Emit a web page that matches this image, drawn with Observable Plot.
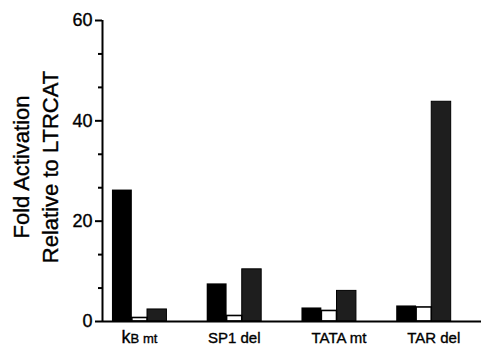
<!DOCTYPE html>
<html>
<head>
<meta charset="utf-8">
<script src="https://cdn.jsdelivr.net/npm/d3@7"></script>
<script src="https://cdn.jsdelivr.net/npm/@observablehq/plot@0.6"></script>
<style>
  html, body { margin: 0; padding: 0; background: #fff; }
  svg { font-family: "Liberation Sans", Arial, Helvetica, sans-serif; }
</style>
</head>
<body>
<div id="chart"></div>
<script>
// Data
const groups = ["kB mt", "SP1 del", "TATA mt", "TAR del"];
const blackValues = [26.2, 7.5, 2.7, 3.1];
const whiteValues = [0.7, 1.1, 2.1, 2.8];
const grayValues  = [2.4, 10.4, 6.1, 43.8];
const majorTicks = [0, 20, 40, 60];
const minorTicks = [20/3, 40/3, 80/3, 100/3, 140/3, 160/3];
const yTitle = "Fold Activation\nRelative to LTRCAT";

// scale configuration
const xDomain = [-0.39, 3.61];
const slots = {black: [-0.285, -0.075], white: [-0.075, 0.085], gray: [0.085, 0.29]};

const rows = groups.map((g, i) => ({i, g, black: blackValues[i], white: whiteValues[i], gray: grayValues[i]}));

const font = "Liberation Sans, Arial, Helvetica, sans-serif";

const plot = Plot.plot({
  width: 481,
  height: 348,
  marginLeft: 102,
  marginRight: 0,
  marginTop: 20,
  marginBottom: 27,
  style: {fontFamily: font, background: "#fff", color: "#000"},
  x: {domain: xDomain, axis: null},
  y: {domain: [0, 60], axis: null},
  marks: [
    Plot.rectY(rows, {x1: d => d.i + slots.black[0], x2: d => d.i + slots.black[1], y: "black", fill: "#000"}),
    Plot.rectY(rows, {x1: d => d.i + slots.gray[0], x2: d => d.i + slots.gray[1], y: "gray", fill: "#1e1e1e", stroke: "#000", strokeWidth: 1}),
    Plot.rectY(rows, {x1: d => d.i + slots.white[0], x2: d => d.i + slots.white[1], y: "white", fill: "#fff", stroke: "#000", strokeWidth: 1.6}),
    Plot.ruleY([0], {stroke: "#000", strokeWidth: 2}),
    Plot.ruleX([xDomain[0]], {y1: 0, y2: 60, stroke: "#000", strokeWidth: 2}),
    Plot.axisY({ticks: majorTicks, tickSize: 7, tickPadding: 3, fontSize: 18, strokeWidth: 2, tickFormat: d => String(d)}),
    Plot.axisY({ticks: minorTicks, tickSize: 4, strokeWidth: 2, tickFormat: () => ""}),
    Plot.axisX({ticks: [0, 1], tickFormat: i => groups[i], tickSize: 0, tickPadding: 11, fontSize: 15}),
    Plot.axisX({ticks: [2, 3], tickFormat: i => groups[i], tickSize: 0, tickPadding: 11, fontSize: 15, dx: 10}),
    Plot.text([yTitle], {frameAnchor: "left", text: d => d, rotate: -90, fontSize: 22, lineHeight: 1.32, lineAnchor: "middle", textAnchor: "middle", dx: -68, dy: -4, fill: "#000"})
  ]
});

// style the kappa-B label: large k, smaller "B mt"; slightly heavier ink on text like the print
d3.select(plot).selectAll("text").each(function() {
  const t = d3.select(this);
  t.attr("stroke", "#000").attr("stroke-width", 0.35);
  if (t.text() === "kB mt") {
    t.text(null);
    t.append("tspan").attr("font-size", 18).text("k");
    t.append("tspan").attr("font-size", 13).text("B mt");
  }
});

document.getElementById("chart").appendChild(plot);
</script>
</body>
</html>
